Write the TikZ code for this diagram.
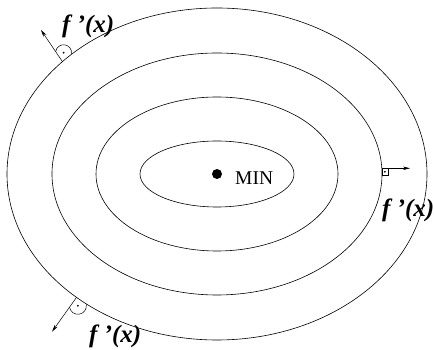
\documentclass[tikz,border=0pt]{standalone}
\usepackage{fontspec}
\setmainfont{Liberation Serif}
\usetikzlibrary{arrows.meta,calc}
\begin{document}
\begin{tikzpicture}[x=1pt,y=1pt,
  contour/.style={line width=0.6pt},
  normalarrow/.style={line width=0.5pt,-{Stealth[length=7pt,width=3.5pt]}},
  marker/.style={line width=0.5pt},
  grad/.style={font=\fontsize{25}{30}\selectfont\bfseries\itshape,inner sep=0pt,anchor=base west},
  minstyle/.style={font=\fontsize{19.5}{23}\selectfont,inner sep=0pt,anchor=base west},
]
\useasboundingbox (0,0) rectangle (434,350);
\coordinate (C) at (217,176);
\draw[contour] (C) ellipse[x radius=77,y radius=33];
\draw[contour] (C) ellipse[x radius=121,y radius=77];
\draw[contour] (C) ellipse[x radius=165,y radius=121];
\draw[contour] (C) ellipse[x radius=210,y radius=166];
\fill (C) circle[radius=5];
\node[minstyle] (minlabel) at (235,165) {MIN};

% top normal
\coordinate (V1) at (62.4,288.4);
\coordinate (T1) at (41,320);
\draw[normalarrow] (V1) -- (T1);
\coordinate (A1) at ($(V1)!12pt!(T1)$);
\coordinate (B1) at ($(V1)+(9.1,7.8)$);
\draw[marker] let \p1=($(A1)-(B1)$), \n1={atan2(\y1,\x1)}, \n2={veclen(\x1,\y1)/2} in
  (A1) arc[start angle=\n1, delta angle=-180, radius=\n2];
\fill ($(A1)!0.5!(B1)$) circle[radius=1];
\node[grad] (g1) at (62,317) {f ’(x)};

% right normal
\coordinate (V2) at (381.8,181.7);
\coordinate (T2) at (410,181.7);
\draw[normalarrow] (V2) -- (T2);
\draw[marker] (V2) rectangle ++(6,-7);
\fill ($(V2)+(3,-3.5)$) circle[radius=1];
\node[grad] (g2) at (382,133) {f ’(x)};

% bottom normal
\coordinate (V3) at (76.5,52.6);
\coordinate (T3) at (52.1,18.4);
\draw[normalarrow] (V3) -- (T3);
\coordinate (A3) at ($(V3)!12pt!(T3)$);
\coordinate (B3) at ($(V3)+(9.8,-7.0)$);
\draw[marker] let \p1=($(A3)-(B3)$), \n1={atan2(\y1,\x1)}, \n2={veclen(\x1,\y1)/2} in
  (A3) arc[start angle=\n1, delta angle=180, radius=\n2];
\fill ($(A3)!0.5!(B3)$) circle[radius=1];
\node[grad] (g3) at (89,7) {f ’(x)};
\end{tikzpicture}
\end{document}
